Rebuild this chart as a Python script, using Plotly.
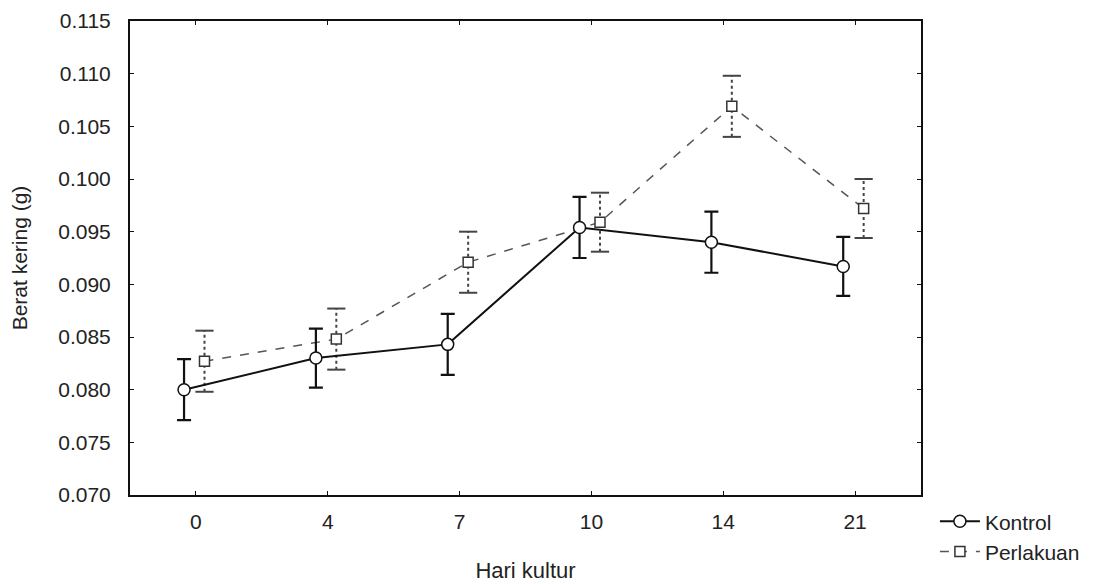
import plotly.graph_objects as go

days = ["0", "4", "7", "10", "14", "21"]
kontrol = [0.0800, 0.0830, 0.0843, 0.0954, 0.0940, 0.0917]
kontrol_err = [0.0029, 0.0028, 0.0029, 0.0029, 0.0029, 0.0028]
perlakuan = [0.0827, 0.0848, 0.0921, 0.0959, 0.1069, 0.0972]
perlakuan_err = [0.0029, 0.0029, 0.0029, 0.0028, 0.0029, 0.0028]
y_ticks = [0.070, 0.075, 0.080, 0.085, 0.090, 0.095, 0.100, 0.105, 0.110, 0.115]

idx = list(range(len(days)))
xk = [i - 0.09 for i in idx]
xp = [i + 0.065 for i in idx]

FONT = "Liberation Sans, Arial, sans-serif"
fig = go.Figure()

# Perlakuan error bars (dotted stems + caps), built from the data
stem_x, stem_y = [], []
for x, v, e in zip(xp, perlakuan, perlakuan_err):
    stem_x += [x, x, None]
    stem_y += [v - e, v + e, None]
fig.add_trace(go.Scatter(x=stem_x, y=stem_y, mode="lines",
                         line=dict(color="#444", width=2, dash="dot"),
                         showlegend=False, hoverinfo="skip"))
cap_x = xp + xp
cap_y = [v - e for v, e in zip(perlakuan, perlakuan_err)] + [v + e for v, e in zip(perlakuan, perlakuan_err)]
fig.add_trace(go.Scatter(x=cap_x, y=cap_y, mode="markers",
                         marker=dict(symbol="line-ew-open", size=13, color="#444",
                                     line=dict(color="#444", width=2)),
                         showlegend=False, hoverinfo="skip"))

fig.add_trace(go.Scatter(
    x=xp, y=perlakuan, mode="lines+markers", name="Perlakuan",
    line=dict(color="#555", width=1.5, dash="dash"),
    marker=dict(symbol="square", size=10, color="white",
                line=dict(color="#333", width=1.5)),
))

fig.add_trace(go.Scatter(
    x=xk, y=kontrol, mode="lines+markers", name="Kontrol",
    line=dict(color="#111", width=2),
    marker=dict(symbol="circle", size=12, color="white",
                line=dict(color="#111", width=1.5)),
    error_y=dict(type="data", array=kontrol_err, visible=True,
                 color="#111", thickness=2.2, width=7),
))

fig.update_layout(
    width=1089, height=576,
    margin=dict(l=122, r=173, t=13, b=84),
    paper_bgcolor="white", plot_bgcolor="white",
    font=dict(family=FONT, size=21, color="#222"),
    showlegend=True,
    legend=dict(x=1.0176, y=-0.013, xanchor="left", yanchor="top",
                traceorder="reversed", font=dict(size=21),
                bgcolor="rgba(0,0,0,0)", itemwidth=40,
                tracegroupgap=0),
    xaxis=dict(
        range=[-0.5, 5.5], tickmode="array", tickvals=idx, ticktext=days,
        showgrid=False, zeroline=False, showline=True, linecolor="#111",
        linewidth=2, mirror="ticks", ticks="inside", ticklen=4,
        tickcolor="#111", ticklabelstandoff=7, automargin=False,
        title=dict(text="Hari kultur", font=dict(size=22), standoff=30),
    ),
    yaxis=dict(
        range=[0.070, 0.115], tickmode="array", tickvals=y_ticks,
        ticktext=[f"{t:.3f}" for t in y_ticks],
        showgrid=False, zeroline=False, showline=True, linecolor="#111",
        linewidth=2, mirror="ticks", ticks="inside", ticklen=4,
        tickcolor="#111", ticklabelstandoff=13, automargin=False,
        title=dict(text="Berat kering (g)", font=dict(size=21), standoff=25),
    ),
)

fig.write_html("out.html")
